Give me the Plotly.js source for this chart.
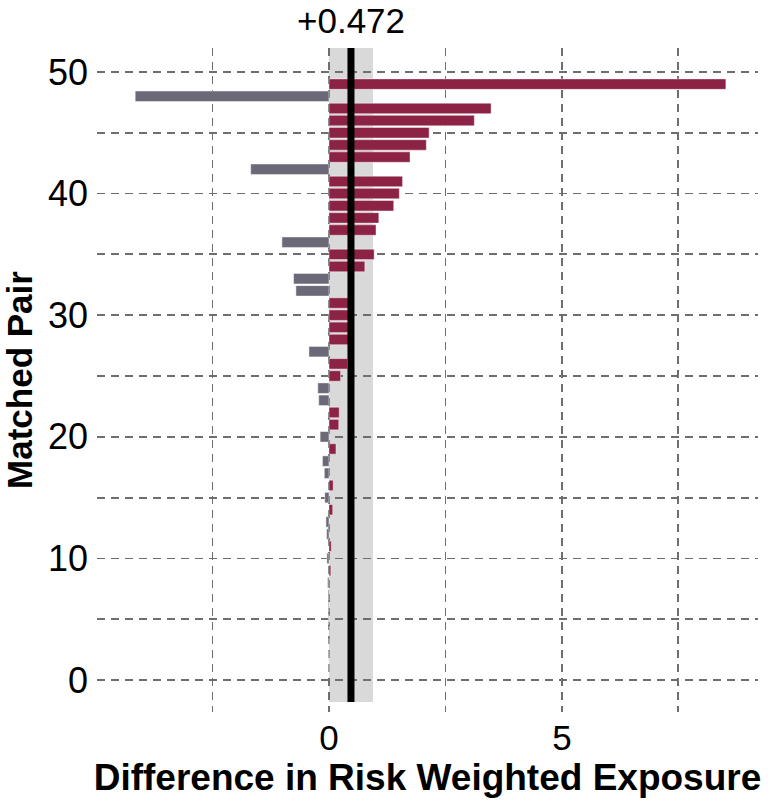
<!DOCTYPE html>
<html>
<head>
<meta charset="utf-8">
<script src="https://cdn.plot.ly/plotly-3.0.1.min.js"></script>
<style>
html, body { margin: 0; padding: 0; background: #ffffff; }
#chart { width: 768px; height: 802px; }
</style>
</head>
<body>
<div id="chart"></div>
<script>
// Matched pair index (y) and difference in risk weighted exposure (x)
const pairs = [1,2,3,4,5,6,7,8,9,10,11,12,13,14,15,16,17,18,19,20,21,22,23,24,25,
               26,27,28,29,30,31,32,33,34,35,36,37,38,39,40,41,42,43,44,45,46,47,48,49];
const differences = [0.003,-0.004,0.006,0.01,-0.012,-0.015,-0.02,-0.03,0.04,-0.045,
                     0.05,-0.05,-0.065,0.08,-0.09,0.09,-0.10,-0.14,0.15,-0.19,
                     0.21,0.22,-0.22,-0.24,0.25,0.40,-0.43,0.45,0.48,0.50,
                     0.53,-0.71,-0.76,0.77,0.97,-1.01,1.01,1.07,1.39,1.51,
                     1.58,-1.68,1.74,2.09,2.15,3.12,3.48,-4.16,8.52];
const meanDiff = 0.472;
const bandLow = 0;
const bandHigh = 0.944;
const xTickVals = [-2.5, 0, 2.5, 5, 7.5];
const xTickText = ['', '0', '', '5', ''];
const yTickVals = [0, 5, 10, 15, 20, 25, 30, 35, 40, 45, 50];
const yTickText = ['0', '', '10', '', '20', '', '30', '', '40', '', '50'];

const posColor = '#8C2345';
const negColor = '#6B6977';
const barColors = differences.map(v => v >= 0 ? posColor : negColor);

const FONT = '"Liberation Sans", Arial, Helvetica, sans-serif';

const trace = {
  type: 'bar',
  orientation: 'h',
  x: differences,
  y: pairs,
  base: 0,
  width: 0.86,
  marker: { color: barColors, line: { color: 'rgba(255,255,255,0.55)', width: 0.8 } },
  hoverinfo: 'x+y'
};

const gridDash = '8px,6px';

const layout = {
  width: 768,
  height: 802,
  margin: { l: 97, r: 10, t: 48, b: 90 },
  paper_bgcolor: '#ffffff',
  plot_bgcolor: '#ffffff',
  showlegend: false,
  font: { family: FONT, color: '#000000' },
  xaxis: {
    range: [-4.98, 9.21],
    tickvals: xTickVals,
    ticktext: xTickText,
    showgrid: true,
    gridcolor: '#6e6e6e',
    gridwidth: 1.8,
    griddash: gridDash,
    zeroline: false,
    showline: false,
    ticks: '',
    tickfont: { size: 35, family: FONT, color: '#000' },
    ticklabelstandoff: 2,
    title: { text: 'Difference in Risk Weighted Exposure', font: { size: 37, family: FONT, color: '#000', weight: 'bold' }, standoff: 6 },
    automargin: false
  },
  yaxis: {
    range: [-2.63, 51.97],
    tickvals: yTickVals,
    ticktext: yTickText,
    showgrid: true,
    gridcolor: '#6e6e6e',
    gridwidth: 1.8,
    griddash: gridDash,
    zeroline: false,
    showline: false,
    ticks: '',
    tickfont: { size: 36, family: FONT, color: '#000' },
    ticklabelstandoff: 8,
    title: { text: 'Matched Pair', font: { size: 35, family: FONT, color: '#000', weight: 'bold' }, standoff: 6 },
    automargin: false
  },
  shapes: [
    { type: 'rect', xref: 'x', yref: 'y', x0: bandLow, x1: bandHigh, y0: -1.8, y1: 51.97,
      fillcolor: '#d9d9d9', line: { width: 0 }, layer: 'below' },
    { type: 'line', xref: 'x', yref: 'y', x0: meanDiff, x1: meanDiff, y0: -1.8, y1: 51.97,
      line: { color: '#000000', width: 7 }, layer: 'above' }
  ],
  annotations: [
    { xref: 'x', yref: 'paper', x: meanDiff, y: 1, yanchor: 'bottom', yshift: 6,
      text: '+' + meanDiff.toFixed(3), showarrow: false,
      font: { size: 35, family: FONT, color: '#000' } }
  ]
};

Plotly.newPlot('chart', [trace], layout, { displayModeBar: false, staticPlot: true });
</script>
</body>
</html>
